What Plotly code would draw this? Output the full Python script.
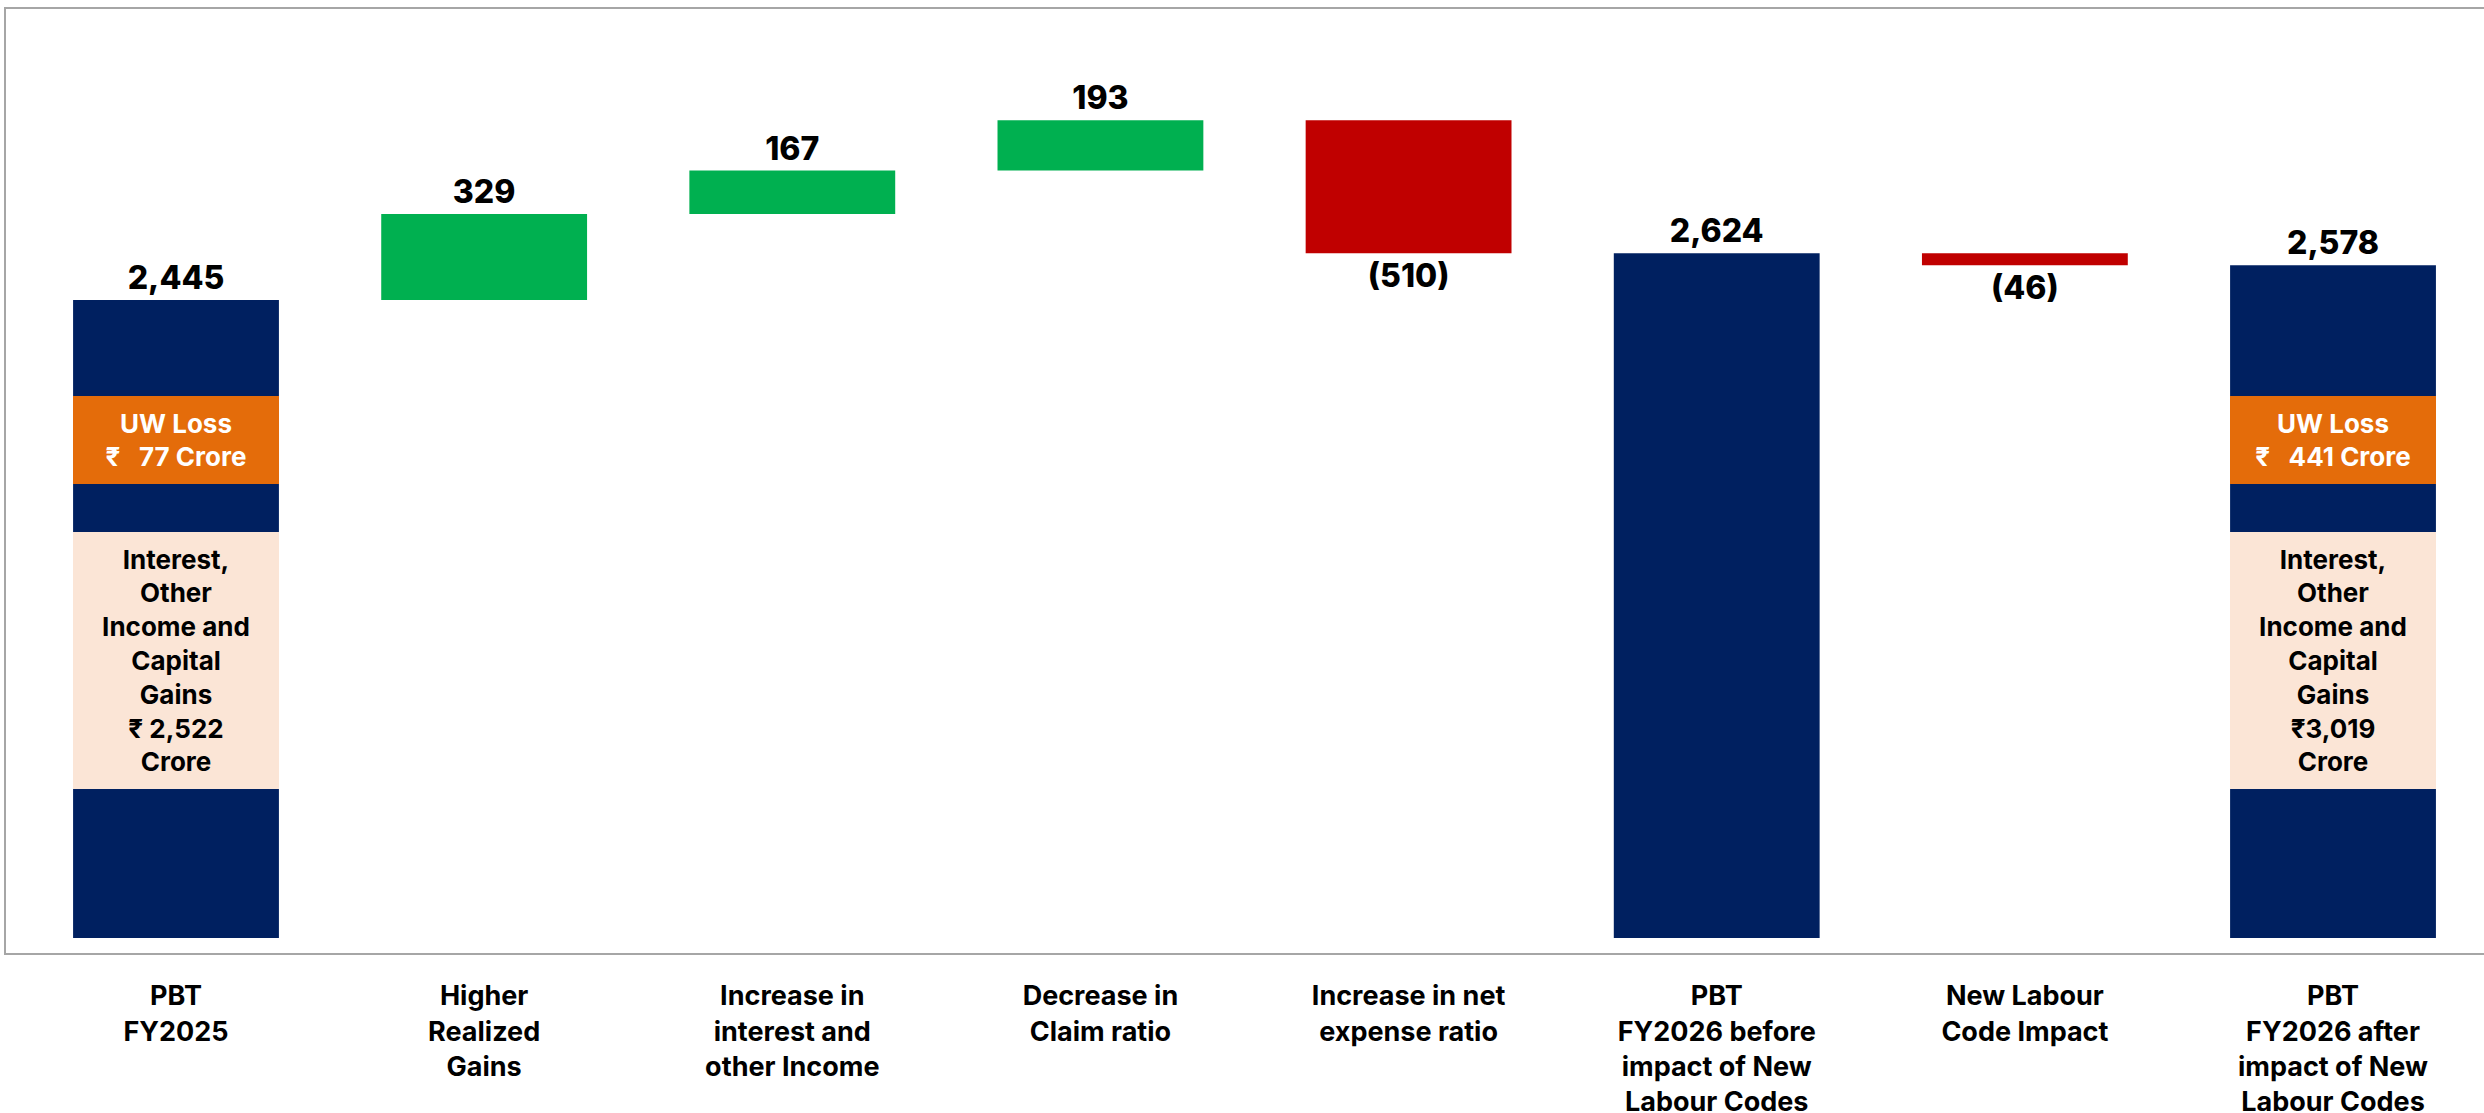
import plotly.graph_objects as go

# ---- data ----
categories = [
    "PBT<br>FY2025",
    "Higher<br>Realized<br>Gains",
    "Increase in<br>interest and<br>other Income",
    "Decrease in<br>Claim ratio",
    "Increase in net<br>expense ratio",
    "PBT<br>FY2026 before<br>impact of New<br>Labour Codes",
    "New Labour<br>Code Impact",
    "PBT<br>FY2026 after<br>impact of New<br>Labour Codes",
]
measures = ["absolute", "relative", "relative", "relative", "relative", "total", "relative", "total"]
values = [2445, 329, 167, 193, -510, 2624, -46, 2578]

box_categories = [0, 7]
uw_loss_text = ["UW Loss<br>₹\u00a0\u00a0 77 Crore", "UW Loss<br>₹\u00a0\u00a0 441 Crore"]
income_text = [
    "Interest,<br>Other<br>Income and<br>Capital<br>Gains<br>₹ 2,522<br>Crore",
    "Interest,<br>Other<br>Income and<br>Capital<br>Gains<br>₹3,019<br>Crore",
]

# ---- styles ----
NAVY = "#002060"
GREEN = "#00B050"
RED = "#C00000"
ORANGE = "#E46C0A"
PEACH = "#FBE5D6"
FRAME = "#A6A6A6"
FONT = "Inter"

# ---- compute waterfall geometry from the data ----
bases, heights, colors, labels = [], [], [], []
running = 0
for m, v in zip(measures, values):
    if m == "relative":
        bases.append(running)
        heights.append(v)
        running += v
        colors.append(GREEN if v >= 0 else RED)
    else:
        bases.append(0)
        heights.append(v)
        running = v
        colors.append(NAVY)
    labels.append(f"{v:,}" if v >= 0 else f"({abs(v):,})")

fig = go.Figure(
    go.Bar(
        x=categories,
        y=heights,
        base=bases,
        marker=dict(color=colors, line=dict(width=0)),
        text=labels,
        textposition="outside",
        textfont=dict(family=FONT, size=32, color="black", weight=800),
        constraintext="none",
        cliponaxis=False,
        hoverinfo="skip",
    )
)

annotations = []
for idx, uw, inc in zip(box_categories, uw_loss_text, income_text):
    annotations.append(dict(
        x=categories[idx], xref="x", y=0.5434, yref="paper",
        xanchor="center", yanchor="middle",
        width=206, height=88, bgcolor=ORANGE, borderpad=0, borderwidth=0,
        text=uw, showarrow=False,
        font=dict(family=FONT, size=26, color="white", weight=700),
    ))
    annotations.append(dict(
        x=categories[idx], xref="x", y=0.3099, yref="paper",
        xanchor="center", yanchor="middle",
        width=206, height=257, bgcolor=PEACH, borderpad=0, borderwidth=0,
        text=inc, showarrow=False,
        font=dict(family=FONT, size=26, color="black", weight=700),
    ))

fig.update_layout(
    width=2484, height=1113,
    margin=dict(l=6, r=0, t=9, b=160, pad=0),
    paper_bgcolor="white", plot_bgcolor="white",
    bargap=0.332, showlegend=False,
    annotations=annotations,
    xaxis=dict(
        type="category", range=[-0.5517, 7.49],
        showline=True, linecolor=FRAME, linewidth=2, mirror=True,
        ticks="", showgrid=False, zeroline=False, automargin=False,
        ticklabelstandoff=18,
        tickfont=dict(family=FONT, size=27, color="black", weight=700),
    ),
    yaxis=dict(
        range=[-57.5, 3560],
        showline=True, linecolor=FRAME, linewidth=2, mirror=False,
        ticks="", showgrid=False, zeroline=False, showticklabels=False,
        automargin=False,
    ),
)

fig.write_html(
    "out.html",
    config={"displayModeBar": False},
    post_script="document.body.style.margin='0px';document.body.style.overflow='hidden';",
)
